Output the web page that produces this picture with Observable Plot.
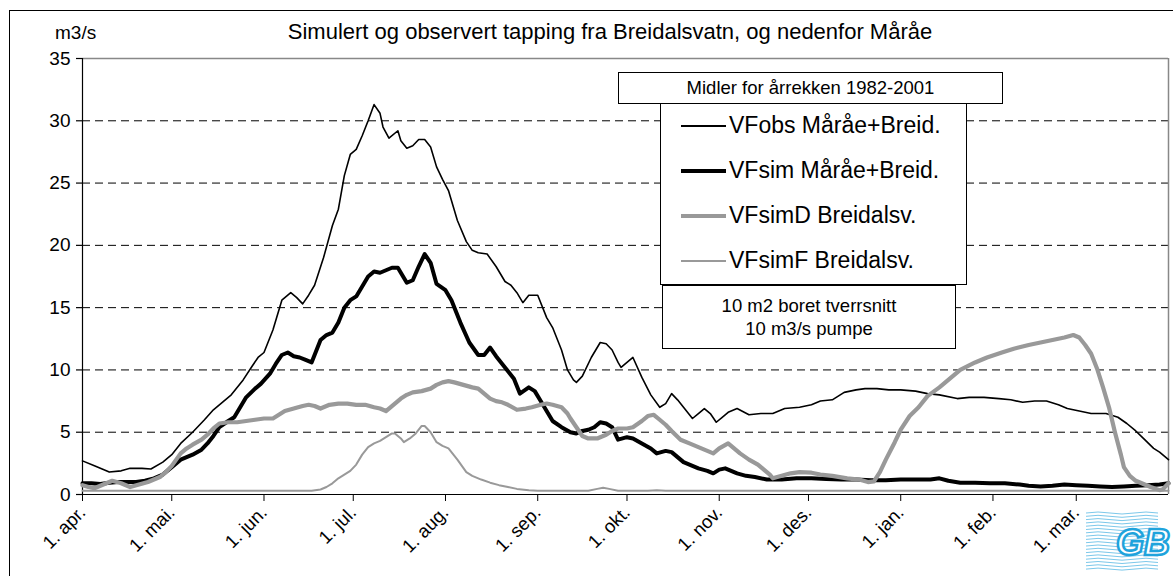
<!DOCTYPE html>
<html><head><meta charset="utf-8">
<script src="https://cdn.jsdelivr.net/npm/d3@7"></script>
<script src="https://cdn.jsdelivr.net/npm/@observablehq/plot@0.6"></script>
<style>
body{margin:0;background:#fff;font-family:"Liberation Sans",Arial,sans-serif;color:#000;}
#wrap{position:relative;width:1173px;height:576px;overflow:hidden;background:#fff;}
#frame{position:absolute;left:9px;top:10px;width:1200px;height:600px;border-left:1px solid #000;border-top:1px solid #000;}
#chart{position:absolute;left:0;top:0;}
.box{position:absolute;background:#fff;border:1px solid #000;box-sizing:border-box;}
#title{position:absolute;left:0;width:1220px;top:19px;text-align:center;font-size:22px;white-space:nowrap;}
#unit{position:absolute;left:55px;top:22px;font-size:19px;}
#hdr{left:618px;top:72px;width:385px;height:32px;text-align:center;font-size:18.5px;line-height:30px;}
#leg{left:660px;top:103px;width:307px;height:182px;}
.item{position:absolute;left:20px;height:2px;width:45px;}
.lt{position:absolute;left:68px;font-size:23px;white-space:nowrap;}
#note{left:662px;top:285px;width:294px;height:64px;text-align:center;font-size:18.5px;line-height:23px;padding-top:8px;}
#logo{position:absolute;left:1086px;top:507px;width:87px;height:66px;}
</style></head><body>
<div id="wrap">
<div id="frame"></div>
<div id="chart"></div>
<div id="title">Simulert og observert tapping fra Breidalsvatn, og nedenfor Måråe</div>
<div id="unit">m3/s</div>
<div class="box" id="hdr">Midler for årrekken 1982-2001</div>
<div class="box" id="leg"></div>
<div class="box" id="note">10 m2 boret tverrsnitt<br>10 m3/s pumpe</div>
<div id="logo"></div>
</div>
<script>
// ---- data (day index counted from 1. apr.) ----
const monthNames = ["jan","feb","mar","apr","mai","jun","jul","aug","sep","okt","nov","des"];
const yTicks = [0,5,10,15,20,25,30,35];
const seriesNames = ["VFobs Måråe+Breid.","VFsim Måråe+Breid.","VFsimD Breidalsv.","VFsimF Breidalsv."];

const obsDays = [0,4,9,13,16,20,23,27,30,33,37,41,44,47,50,54,57,59,61,64,67,70,72,74,76,78,81,84,86,88,90,92,94,96,98,100,101,103,106,107,109,111,113,115,117,119,121,123,126,129,131,133,136,139,142,144,146,148,150,153,156,158,161,163,165,166,168,171,174,176,178,180,181,183,185,188,191,194,196,198,200,202,205,207,209,211,213,215,217,220,224,228,232,236,241,245,248,252,256,260,263,267,271,275,280,284,288,294,298,303,308,312,316,320,324,328,331,335,339,344,348,351,354,357,360,362,365];
const obsVals = [2.7,2.3,1.8,1.9,2.1,2.1,2.05,2.6,3.2,4.1,5.0,6.0,6.8,7.4,8.0,9.2,10.3,11.0,11.4,13.2,15.6,16.2,15.8,15.3,16.0,16.8,19.0,21.6,22.9,25.6,27.3,27.7,28.8,30.0,31.3,30.6,29.5,28.6,29.2,28.4,27.8,28.0,28.5,28.5,27.9,26.3,25.3,24.4,22.0,20.3,19.6,19.4,19.3,18.3,17.1,16.8,16.2,15.4,16.0,16.0,14.2,13.4,11.6,10.0,9.2,9.0,9.5,11.0,12.2,12.1,11.6,10.6,10.2,10.6,11.0,9.4,8.0,7.0,7.3,8.1,7.6,7.0,6.1,6.5,6.9,6.5,5.8,6.2,6.6,6.9,6.4,6.5,6.5,6.9,7.0,7.2,7.5,7.6,8.2,8.4,8.5,8.5,8.4,8.4,8.3,8.1,8.0,7.7,7.8,7.8,7.7,7.6,7.4,7.5,7.5,7.2,6.9,6.7,6.5,6.5,6.2,5.7,5.1,4.4,3.7,3.4,2.8];

const simDays = [0,3,6,9,12,15,18,21,24,27,30,33,35,37,40,42,44,46,49,51,53,55,58,60,63,65,67,69,71,73,75,77,78,80,82,84,86,88,90,92,94,96,98,100,102,104,106,108,109,111,113,115,117,119,122,124,127,130,133,135,137,139,142,145,147,150,152,154,156,158,161,164,166,168,170,172,174,176,178,180,183,185,188,191,193,196,198,200,202,205,207,210,212,214,216,218,220,223,226,230,235,240,245,250,255,260,265,270,275,280,285,288,291,295,300,305,310,315,318,322,326,330,334,338,342,346,350,354,358,362,365];
const simVals = [0.9,0.9,0.85,0.95,1.0,1.0,1.0,1.1,1.3,1.6,2.2,2.8,3.0,3.2,3.6,4.1,4.7,5.4,5.9,6.2,7.0,7.8,8.5,8.9,9.7,10.5,11.2,11.4,11.1,11.0,10.8,10.6,11.2,12.4,12.8,13.0,13.8,15.0,15.6,15.9,16.7,17.5,17.9,17.8,18.0,18.2,18.2,17.4,17.0,17.2,18.3,19.3,18.6,16.9,16.4,15.6,13.8,12.2,11.2,11.2,11.8,11.1,10.2,9.3,8.1,8.6,8.3,7.5,6.7,5.9,5.4,5.0,4.9,5.1,5.2,5.4,5.8,5.7,5.4,4.4,4.6,4.5,4.1,3.7,3.3,3.5,3.4,3.0,2.6,2.3,2.1,1.9,1.7,2.0,2.1,1.9,1.7,1.5,1.4,1.2,1.2,1.3,1.3,1.25,1.2,1.2,1.15,1.15,1.2,1.2,1.2,1.3,1.1,0.95,0.95,0.9,0.9,0.8,0.7,0.65,0.7,0.8,0.75,0.7,0.65,0.6,0.65,0.7,0.75,0.8,0.9];

const simDDays = [0,2,4,7,10,13,16,19,22,24,26,28,30,33,35,37,40,42,44,46,49,52,55,58,61,64,66,68,71,74,76,78,80,83,86,89,92,95,98,100,102,104,107,109,111,114,117,119,121,123,125,128,131,133,135,137,139,141,143,146,149,151,154,156,158,161,163,164,166,168,170,173,176,178,180,183,185,188,190,192,194,196,198,201,204,207,210,212,214,217,219,221,224,227,229,231,232,235,238,241,245,248,252,257,261,264,266,268,270,273,275,278,281,284,288,292,295,300,304,309,313,318,322,326,330,333,335,337,339,341,343,345,347,349,350,352,354,356,359,362,363,365];
const simDVals = [0.75,0.6,0.5,0.8,1.1,0.9,0.6,0.8,1.0,1.2,1.4,1.8,2.3,3.3,3.7,4.0,4.4,4.8,5.3,5.7,5.8,5.8,5.9,6.0,6.1,6.1,6.4,6.7,6.9,7.1,7.2,7.1,6.9,7.2,7.3,7.3,7.2,7.2,7.0,6.9,6.7,7.1,7.7,8.0,8.2,8.3,8.5,8.8,9.0,9.1,9.0,8.8,8.6,8.5,8.1,7.7,7.5,7.4,7.2,6.8,6.9,7.0,7.2,7.3,7.2,7.0,6.5,6.1,5.4,4.7,4.5,4.5,4.8,5.1,5.3,5.3,5.4,5.9,6.3,6.4,6.0,5.6,5.1,4.4,4.1,3.8,3.5,3.3,3.7,4.1,3.7,3.3,2.8,2.4,2.0,1.6,1.3,1.5,1.7,1.8,1.75,1.6,1.5,1.3,1.2,1.0,1.05,1.8,2.8,4.2,5.2,6.3,7.0,7.9,8.6,9.4,10.0,10.6,11.0,11.4,11.7,12.0,12.2,12.4,12.6,12.8,12.6,12.0,11.3,10.1,8.6,7.0,5.0,3.2,2.2,1.5,1.1,0.9,0.6,0.35,0.4,0.9];

const simFDays = [0,77,80,82,84,86,88,90,92,94,96,98,100,102,104,105,107,108,110,112,114,115,117,119,121,123,126,129,131,134,137,140,143,146,150,153,170,173,175,177,180,190,193,196,365];
const simFVals = [0.3,0.3,0.4,0.6,0.9,1.3,1.6,1.9,2.4,3.2,3.8,4.1,4.3,4.6,4.9,4.9,4.5,4.2,4.5,4.9,5.5,5.5,5.0,4.2,3.9,3.7,2.8,1.8,1.5,1.2,0.95,0.75,0.6,0.45,0.35,0.3,0.3,0.45,0.55,0.45,0.3,0.3,0.35,0.3,0.3];

// ---- build ----
const start = Date.UTC(2001, 3, 1);
const toDate = d => new Date(start + d * 864e5);
const rows = (name, days, vals) => days.map((d, i) => ({name, date: toDate(d), value: vals[i]}));
const obs = rows(seriesNames[0], obsDays, obsVals);
const sim = rows(seriesNames[1], simDays, simVals);
const simD = rows(seriesNames[2], simDDays, simDVals);
const simF = rows(seriesNames[3], simFDays, simFVals);
const styles = [
  {stroke: "#000", strokeWidth: 1.6},
  {stroke: "#000", strokeWidth: 4},
  {stroke: "#999", strokeWidth: 4.2},
  {stroke: "#999", strokeWidth: 2}
];
const monthTicks = d3.utcMonth.range(toDate(0), toDate(365));

const chart = Plot.plot({
  width: 1173, height: 576,
  marginLeft: 82, marginRight: 5, marginTop: 58, marginBottom: 82,
  style: {fontFamily: "'Liberation Sans', Arial, sans-serif", fontSize: "19px", color: "#000", background: "transparent", overflow: "visible"},
  x: {type: "utc", domain: [toDate(0), toDate(365)]},
  y: {domain: [0, 35]},
  marks: [
    Plot.ruleY(yTicks.filter(t => t > 0 && t < 35), {stroke: "#000", strokeDasharray: "8,5", strokeWidth: 1}),
    Plot.ruleY([35], {stroke: "#888", strokeWidth: 1.5}),
    Plot.ruleX([toDate(365)], {stroke: "#888", strokeWidth: 1.5}),
    Plot.axisY({ticks: yTicks, tickSize: 6, tickPadding: 6, label: null, fontSize: 19, strokeWidth: 1.2}),
    Plot.axisX({ticks: monthTicks, tickSize: 7, tickPadding: 8, tickRotate: -45, label: null, fontSize: 18.5,
      tickFormat: d => "1. " + monthNames[d.getUTCMonth()] + "."}),
    Plot.ruleX([toDate(0)], {stroke: "#000", strokeWidth: 1.2}),
    Plot.ruleY([0], {stroke: "#000", strokeWidth: 1.2}),
    Plot.line(obs, {x: "date", y: "value", ...styles[0], strokeLinejoin: "round"}),
    Plot.line(sim, {x: "date", y: "value", ...styles[1], strokeLinejoin: "round"}),
    Plot.line(simD, {x: "date", y: "value", ...styles[2], strokeLinejoin: "round"}),
    Plot.line(simF, {x: "date", y: "value", ...styles[3], strokeLinejoin: "round"})
  ]
});
document.getElementById("chart").appendChild(chart);

// legend
const leg = document.getElementById("leg");
seriesNames.forEach((n, i) => {
  const cy = 22 + i * 45;
  const ln = document.createElement("div");
  ln.className = "item";
  ln.style.top = (cy - styles[i].strokeWidth / 2) + "px";
  ln.style.height = styles[i].strokeWidth + "px";
  ln.style.background = styles[i].stroke;
  leg.appendChild(ln);
  const t = document.createElement("div");
  t.className = "lt";
  t.style.top = (cy - 14) + "px";
  t.textContent = n;
  leg.appendChild(t);
});

// logo approximation
const logo = d3.select("#logo").append("svg").attr("width", 87).attr("height", 66);
for (let k = 0; k < 18; k++) {
  logo.append("path").attr("d", `M0 ${6 + k * 3.3} q 12 -2 24 0 t 24 0 t 24 0`)
    .attr("fill", "none").attr("stroke", "#7cc8ea").attr("stroke-width", 1);
}
logo.append("text").attr("x", 30).attr("y", 48).attr("font-size", 36).attr("font-weight", "bold")
  .attr("font-style", "italic").attr("fill", "#fff").attr("stroke", "#1fa3dc").attr("stroke-width", 2.5)
  .attr("font-family", "Liberation Sans, Arial").text("GB");
</script>
</body></html>
